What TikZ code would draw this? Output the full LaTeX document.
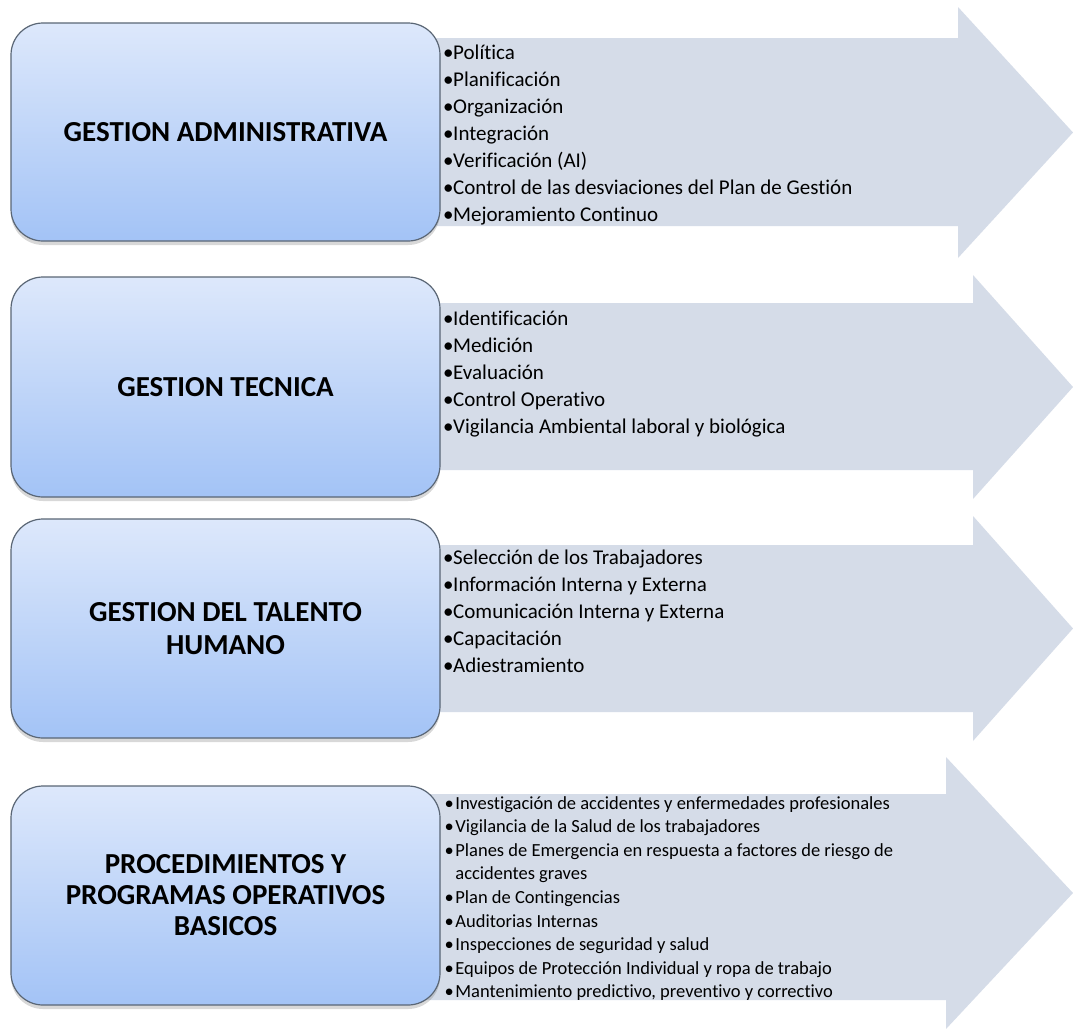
\documentclass[tikz,border=0pt]{standalone}
\usepackage{fontspec}
\setmainfont{Carlito}[Ligatures={NoCommon,NoRare,NoContextual}]
\usetikzlibrary{shadows}
\definecolor{arrowfill}{HTML}{D5DCE8}
\definecolor{boxtop}{HTML}{DDE8FB}
\definecolor{boxbot}{HTML}{A3C3F6}
\definecolor{boxline}{HTML}{5A6675}
\newcommand\blta{\makebox[10pt][l]{•}}
\newcommand\bltb{\makebox[10.7pt][l]{•}}
\begin{document}
\begin{tikzpicture}[x=1pt,y=-1pt,
 catbox/.style={draw=boxline, line width=1.2pt, rounded corners=32pt,
   top color=boxtop, bottom color=boxbot, minimum width=429pt, inner sep=0pt,
   align=center, font=\bfseries\fontsize{29}{33}\selectfont,
   drop shadow={opacity=0.3, shadow xshift=0pt, shadow yshift=-4pt}},
 arrowshape/.style={fill=arrowfill, draw=none},
 item/.style={anchor=base west, inner sep=0pt, font=\fontsize{21}{25}\selectfont},
 itemsm/.style={anchor=base west, inner sep=0pt, font=\fontsize{18.5}{22}\selectfont}]

\useasboundingbox[fill=white] (0,0) rectangle (1073,1028);

% arrows
\fill[arrowshape] (420,38) -- (958,38) -- (958,7) -- (1073,132.5) -- (958,258) -- (958,226) -- (420,226) -- cycle;
\fill[arrowshape] (420,303) -- (973,303) -- (973,275) -- (1073,387) -- (973,499) -- (973,470) -- (420,470) -- cycle;
\fill[arrowshape] (420,545) -- (973,545) -- (973,516) -- (1073,628.5) -- (973,741) -- (973,712) -- (420,712) -- cycle;
\fill[arrowshape] (420,794) -- (946,794) -- (946,757) -- (1073,893) -- (946,1029) -- (946,1000) -- (420,1000) -- cycle;

% boxes
\node[catbox, minimum height=218pt] (g1) at (225.5,132) {GESTION ADMINISTRATIVA};
\node[catbox, minimum height=220pt] (g2) at (225.5,387) {GESTION TECNICA};
\node[catbox, minimum height=219pt] (g3) at (225.5,628.5) {GESTION DEL TALENTO\\HUMANO};
\node[catbox, minimum height=219pt, font=\bfseries\fontsize{29}{31}\selectfont] (g4) at (225.5,895.5) {PROCEDIMIENTOS Y\\PROGRAMAS OPERATIVOS\\BASICOS};

% lists
\foreach \t [count=\i from 0] in {Política,Planificación,Organización,Integración,Verificación (AI),Control de las desviaciones del Plan de Gestión,Mejoramiento Continuo}
  \node[item] (a\i) at (443,59+27*\i) {\blta\t};

\foreach \t [count=\i from 0] in {Identificación,Medición,Evaluación,Control Operativo,Vigilancia Ambiental laboral y biológica}
  \node[item] (b\i) at (443,325+27*\i) {\blta\t};

\foreach \t [count=\i from 0] in {Selección de los Trabajadores,Información Interna y Externa,Comunicación Interna y Externa,Capacitación,Adiestramiento}
  \node[item] (c\i) at (443,564+27*\i) {\blta\t};

\foreach \t [count=\i from 0] in {{\bltb Investigación de accidentes y enfermedades profesionales},{\bltb Vigilancia de la Salud de los trabajadores},{\bltb Planes de Emergencia en respuesta a factores de riesgo de},{\hspace*{10.7pt}accidentes graves},{\bltb Plan de Contingencias},{\bltb Auditorias Internas},{\bltb Inspecciones de seguridad y salud},{\bltb Equipos de Protección Individual y ropa de trabajo},{\bltb Mantenimiento predictivo, preventivo y correctivo}}
  \node[itemsm] (d\i) at (444.5,809+23.6*\i) {\t};

\end{tikzpicture}
\end{document}
